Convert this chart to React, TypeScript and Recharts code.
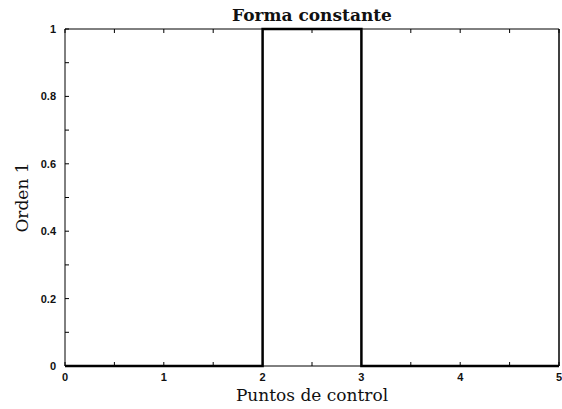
import { LineChart, Line, XAxis, YAxis, Label } from 'recharts';

// control point positions and basis value (order 1, constant shape)
const puntosX = [0, 2, 2, 3, 3, 5];
const orden1 = [0, 0, 1, 1, 0, 0];

const xTicks = [0, 0.5, 1, 1.5, 2, 2.5, 3, 3.5, 4, 4.5, 5];
const yTicks = [0, 0.1, 0.2, 0.3, 0.4, 0.5, 0.6, 0.7, 0.8, 0.9, 1];

const data = puntosX.map((x, i) => ({ x, y: orden1[i] }));

const tickStyle = { fontFamily: 'Liberation Sans', fontSize: 11, fontWeight: 700, fill: '#111' };
const serif = { fontFamily: 'DejaVu Serif', fontSize: 17, fill: '#111' };

const xLabel = (v: number) => (Number.isInteger(v) ? String(v) : '');
const yLabel = (v: number) => (Math.round(v * 10) % 2 === 0 ? String(v) : '');
const blank = () => '';

export default function App() {
  return (
    <div style={{ position: 'absolute', left: 0, top: 0, background: '#fff' }}>
      <LineChart width={562} height={409} data={data} margin={{ top: 0, right: 0, bottom: 0, left: 0 }}>
        <XAxis
          xAxisId="bottom"
          dataKey="x"
          type="number"
          domain={[0, 5]}
          ticks={xTicks}
          interval={0}
          tickFormatter={xLabel}
          orientation="bottom"
          height={43}
          tickSize={-4}
          tickMargin={11}
          axisLine={{ stroke: '#000', strokeWidth: 1 }}
          tickLine={{ stroke: '#000' }}
          tick={tickStyle}
        >
          <Label value="Puntos de control" position="insideBottom" offset={8} style={serif} />
        </XAxis>
        <XAxis
          xAxisId="top"
          dataKey="x"
          type="number"
          domain={[0, 5]}
          ticks={xTicks}
          interval={0}
          tickFormatter={blank}
          orientation="top"
          height={29}
          tickSize={-4}
          axisLine={{ stroke: '#000', strokeWidth: 1 }}
          tickLine={{ stroke: '#000' }}
        >
          <Label value="Forma constante" position="insideTop" offset={9} style={{ ...serif, fontWeight: 700 }} />
        </XAxis>
        <YAxis
          yAxisId="left"
          type="number"
          domain={[0, 1]}
          ticks={yTicks}
          interval={0}
          tickFormatter={yLabel}
          orientation="left"
          width={65}
          tickSize={-4}
          tickMargin={13}
          axisLine={{ stroke: '#000', strokeWidth: 1 }}
          tickLine={{ stroke: '#000' }}
          tick={tickStyle}
        >
          <Label value="Orden 1" position="insideLeft" angle={-90} offset={22} style={{ ...serif, textAnchor: 'middle' }} />
        </YAxis>
        <YAxis
          yAxisId="right"
          type="number"
          domain={[0, 1]}
          ticks={yTicks}
          interval={0}
          tickFormatter={blank}
          orientation="right"
          width={3}
          tickSize={-4}
          axisLine={{ stroke: '#000', strokeWidth: 1.5 }}
          tickLine={{ stroke: '#000' }}
        />
        <Line
          xAxisId="bottom"
          yAxisId="left"
          type="linear"
          dataKey="y"
          stroke="#000"
          strokeWidth={2.5}
          dot={false}
          isAnimationActive={false}
        />
      </LineChart>
    </div>
  );
}
